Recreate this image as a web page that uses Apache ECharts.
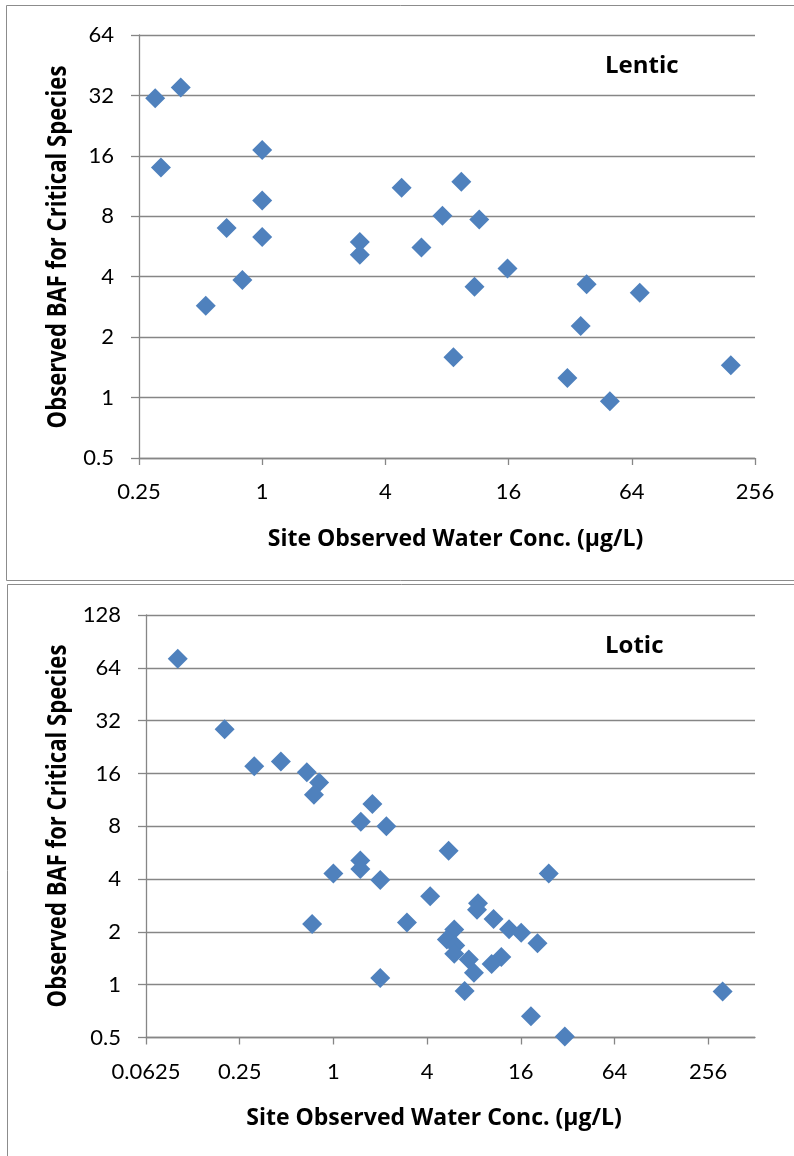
<!DOCTYPE html>
<html>
<head>
<meta charset="utf-8">
<script src="https://cdn.jsdelivr.net/npm/echarts@6/dist/echarts.min.js"></script>
<style>
html,body{margin:0;padding:0;background:#fff;}
#c{width:794px;height:1156px;}
</style>
</head>
<body>
<div id="c"></div>
<script>
// ---- Lentic panel data ----
const lenticX = [0.30, 0.40, 0.32, 1.0, 1.0, 0.67, 1.0, 0.80, 0.53, 3.0, 3.0, 4.8, 7.6, 6.0, 9.4, 11.5, 15.8, 10.9, 38.5, 70, 36, 8.6, 31, 50, 195];
const lenticY = [31, 35, 14, 17.1, 9.6, 7.0, 6.3, 3.85, 2.87, 5.95, 5.15, 11.1, 8.05, 5.6, 11.9, 7.7, 4.4, 3.57, 3.67, 3.33, 2.27, 1.59, 1.25, 0.96, 1.45];
// ---- Lotic panel data ----
const loticX = [0.10, 0.20, 0.31, 0.46, 0.675, 0.81, 0.75, 1.78, 1.50, 2.19, 5.5, 1.49, 1.49, 1.0, 2.0, 24.2, 4.19, 8.5, 8.37, 10.7, 0.73, 2.97, 5.98, 13.45, 16.1, 5.36, 6.07, 20.5, 5.98, 7.42, 12.0, 10.4, 8.0, 2.0, 6.97, 18.6, 30.7, 317];
const loticY = [72, 28.6, 17.6, 18.7, 16.25, 14.2, 12.1, 10.7, 8.5, 8.0, 5.8, 5.1, 4.57, 4.31, 3.95, 4.31, 3.19, 2.91, 2.67, 2.37, 2.22, 2.26, 2.06, 2.07, 1.98, 1.81, 1.67, 1.72, 1.50, 1.39, 1.44, 1.31, 1.17, 1.09, 0.92, 0.66, 0.507, 0.915];
// ---- tick labels ----
const lenticXTicks = [0.25, 1, 4, 16, 64, 256];
const lenticYTicks = [0.5, 1, 2, 4, 8, 16, 32, 64];
const loticXTicks = [0.0625, 0.25, 1, 4, 16, 64, 256];
const loticYTicks = [0.5, 1, 2, 4, 8, 16, 32, 64, 128];
// ---- texts ----
const xTitle = 'Site Observed Water Conc. (µg/L)';
const yTitle = 'Observed BAF for Critical Species';
const panelNames = ['Lentic', 'Lotic'];

const GRID_C = '#868686';
const LABEL_FONT = 'Lato';
const TITLE_FONT = "'Open Sans'";

function fmt(list) {
  return function (v) {
    const r = +(+v).toPrecision(6);
    return list.some(t => Math.abs(t - r) / t < 1e-6) ? String(r) : '';
  };
}
function pairs(xs, ys) { return xs.map((x, i) => [x, ys[i]]); }

function xAxisCfg(gridIndex, min, max, ticks, gap, pad, custom) {
  const tick = { show: true, length: 7, inside: false, lineStyle: { color: GRID_C, width: 1.3 } };
  if (custom) tick.customValues = ticks;
  return {
    type: 'log', logBase: 4, gridIndex, min, max,
    axisLine: { show: true, onZero: false, lineStyle: { color: GRID_C, width: 1.3 } },
    axisTick: tick,
    splitLine: { show: false },
    minorTick: { show: false },
    axisLabel: { margin: 23, color: '#000', fontFamily: LABEL_FONT, fontSize: 22, formatter: fmt(ticks) },
    name: xTitle, nameLocation: 'middle', nameGap: gap,
    nameTextStyle: { color: '#000', fontFamily: TITLE_FONT, fontWeight: 'bold', fontSize: 23, padding: pad }
  };
}
function yAxisCfg(gridIndex, min, max, ticks) {
  return {
    type: 'log', logBase: 2, gridIndex, min, max,
    axisLine: { show: true, onZero: false, lineStyle: { color: GRID_C, width: 1.3 } },
    axisTick: { show: true, length: 8, inside: false, lineStyle: { color: GRID_C, width: 1.3 } },
    splitLine: { show: true, lineStyle: { color: GRID_C, width: 1.3 } },
    minorTick: { show: false },
    axisLabel: { margin: 25, color: '#000', fontFamily: LABEL_FONT, fontSize: 22, formatter: fmt(ticks) }
  };
}
// vertical axis title as real text, condensed along its reading direction
function yTitleText(cx, cy) {
  return { type: 'text', x: cx, y: cy, rotation: Math.PI / 2, scaleX: 0.85, scaleY: 1.02,
    style: { text: yTitle, fill: '#000', font: "bold 26px 'Open Sans'",
      textAlign: 'center', textVerticalAlign: 'middle' } };
}

const chart = echarts.init(document.getElementById('c'), null, { renderer: 'canvas' });
chart.setOption({
  animation: false,
  backgroundColor: '#fff',
  grid: [
    { left: 139, right: 39, top: 35, height: 423, outerBoundsMode: 'none' },
    { left: 146, right: 39, top: 615, height: 422.5, outerBoundsMode: 'none' }
  ],
  xAxis: [
    xAxisCfg(0, 0.25, 256, lenticXTicks, 70, [0, 0, 0, 17], false),
    xAxisCfg(1, 0.0625, 512, loticXTicks, 69, [0, 33, 0, 0], true)
  ],
  yAxis: [
    yAxisCfg(0, 0.5, 64, lenticYTicks),
    yAxisCfg(1, 0.5, 128, loticYTicks)
  ],
  series: [
    { type: 'scatter', xAxisIndex: 0, yAxisIndex: 0, data: pairs(lenticX, lenticY),
      symbol: 'diamond', symbolSize: 20, clip: false, itemStyle: { color: '#4F81BD', opacity: 1 } },
    { type: 'scatter', xAxisIndex: 1, yAxisIndex: 1, data: pairs(loticX, loticY),
      symbol: 'diamond', symbolSize: 20, clip: false, itemStyle: { color: '#4F81BD', opacity: 1 } }
  ],
  graphic: [
    { type: 'rect', silent: true, z: -10, shape: { x: 6.5, y: 5.5, width: 800, height: 575 },
      style: { fill: 'none', stroke: '#8c8c8c', lineWidth: 1 } },
    { type: 'rect', silent: true, z: -10, shape: { x: 7.5, y: 584.5, width: 800, height: 600 },
      style: { fill: 'none', stroke: '#8c8c8c', lineWidth: 1 } },
    yTitleText(58, 247),
    yTitleText(58, 826),
    { type: 'text', x: 605, y: 66, style: { text: panelNames[0], fill: '#000',
      font: "bold 24px 'Open Sans'", textAlign: 'left', textVerticalAlign: 'middle' } },
    { type: 'text', x: 605, y: 646, style: { text: panelNames[1], fill: '#000',
      font: "bold 24px 'Open Sans'", textAlign: 'left', textVerticalAlign: 'middle' } }
  ]
});
</script>
</body>
</html>
